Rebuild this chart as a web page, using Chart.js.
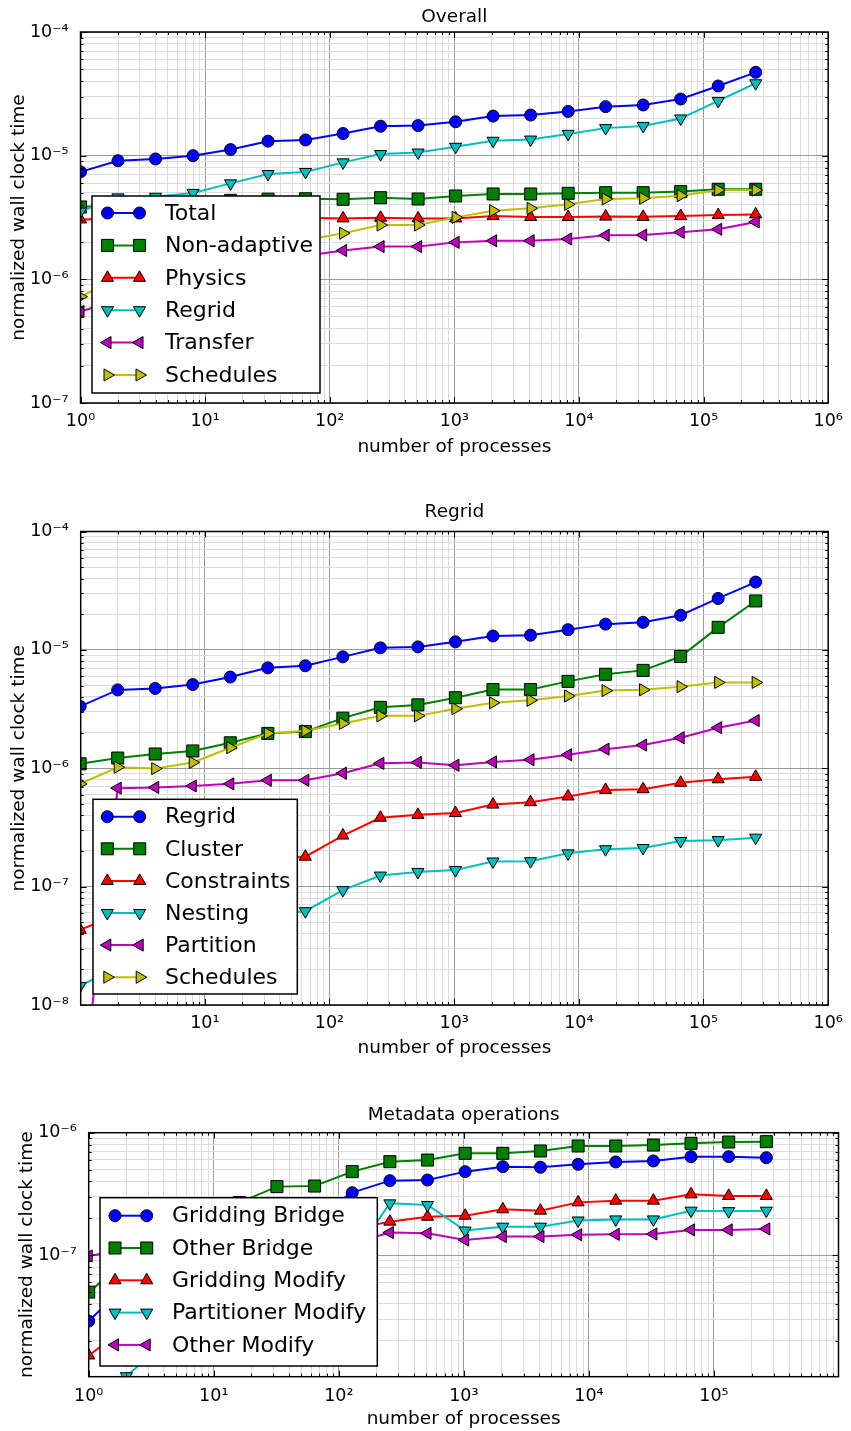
<!DOCTYPE html>
<html>
<head>
<meta charset="utf-8">
<script src="https://cdn.jsdelivr.net/npm/chart.js@4.4.1/dist/chart.umd.min.js"></script>
<style>
html, body { margin: 0; padding: 0; background: #ffffff; }
body { width: 851px; height: 1431px; position: relative; overflow: hidden; }
canvas { position: absolute; left: 0; }
</style>
</head>
<body>
<canvas id="c1" width="851" height="470" style="top:0px"></canvas>
<canvas id="c2" width="851" height="600" style="top:470px"></canvas>
<canvas id="c3" width="851" height="361" style="top:1070px"></canvas>
<script>
// ---------------- data ----------------
const PROCS = [1, 2, 4, 8, 16, 32, 64, 128, 256, 512, 1024, 2048, 4096, 8192, 16384, 32768, 65536, 131072, 262144];

// Overall
const overallNames = ['Total', 'Non-adaptive', 'Physics', 'Regrid', 'Transfer', 'Schedules'];
const overallTotal = [7.4e-6, 9.1e-6, 9.4e-6, 1.0e-5, 1.12e-5, 1.31e-5, 1.34e-5, 1.51e-5, 1.73e-5, 1.75e-5, 1.88e-5, 2.09e-5, 2.13e-5, 2.28e-5, 2.49e-5, 2.57e-5, 2.87e-5, 3.66e-5, 4.72e-5];
const overallNonAdaptive = [3.85e-6, 4.0e-6, 4.1e-6, 4.2e-6, 4.35e-6, 4.45e-6, 4.48e-6, 4.44e-6, 4.57e-6, 4.46e-6, 4.72e-6, 4.9e-6, 4.9e-6, 4.96e-6, 5.02e-6, 5.02e-6, 5.12e-6, 5.35e-6, 5.35e-6];
const overallPhysics = [3.05e-6, 3.1e-6, 3.1e-6, 3.12e-6, 3.1e-6, 3.15e-6, 3.15e-6, 3.11e-6, 3.15e-6, 3.11e-6, 3.11e-6, 3.25e-6, 3.19e-6, 3.19e-6, 3.22e-6, 3.2e-6, 3.25e-6, 3.31e-6, 3.35e-6];
const overallRegrid = [3.53e-6, 4.6e-6, 4.65e-6, 5.0e-6, 5.97e-6, 7.11e-6, 7.38e-6, 8.83e-6, 1.03e-5, 1.06e-5, 1.18e-5, 1.32e-5, 1.35e-5, 1.5e-5, 1.67e-5, 1.74e-5, 2.0e-5, 2.77e-5, 3.85e-5];
const overallTransfer = [5.5e-7, 6.8e-7, 8.5e-7, 1.05e-6, 1.25e-6, 1.45e-6, 1.55e-6, 1.71e-6, 1.84e-6, 1.84e-6, 1.99e-6, 2.05e-6, 2.05e-6, 2.12e-6, 2.27e-6, 2.28e-6, 2.4e-6, 2.54e-6, 2.91e-6];
const overallSchedules = [7.24e-7, 1.02e-6, 9.93e-7, 1.12e-6, 1.49e-6, 1.97e-6, 2.07e-6, 2.36e-6, 2.75e-6, 2.75e-6, 3.17e-6, 3.59e-6, 3.75e-6, 4.04e-6, 4.46e-6, 4.52e-6, 4.75e-6, 5.27e-6, 5.27e-6];

// Regrid
const regridNames = ['Regrid', 'Cluster', 'Constraints', 'Nesting', 'Partition', 'Schedules'];
const regridRegrid = [3.33e-6, 4.59e-6, 4.72e-6, 5.09e-6, 5.89e-6, 7.05e-6, 7.34e-6, 8.73e-6, 1.04e-5, 1.06e-5, 1.17e-5, 1.31e-5, 1.33e-5, 1.48e-5, 1.65e-5, 1.71e-5, 1.96e-5, 2.72e-5, 3.74e-5];
const regridCluster = [1.09e-6, 1.22e-6, 1.32e-6, 1.40e-6, 1.64e-6, 1.97e-6, 2.04e-6, 2.65e-6, 3.27e-6, 3.43e-6, 3.94e-6, 4.62e-6, 4.62e-6, 5.42e-6, 6.22e-6, 6.71e-6, 8.79e-6, 1.55e-5, 2.59e-5];
const regridConstraints = [4.32e-8, 5.8e-8, 8.0e-8, 1.05e-7, 1.35e-7, 1.7e-7, 1.79e-7, 2.70e-7, 3.82e-7, 4.04e-7, 4.18e-7, 4.93e-7, 5.17e-7, 5.78e-7, 6.56e-7, 6.65e-7, 7.54e-7, 8.07e-7, 8.47e-7];
const regridNesting = [1.45e-8, 2.1e-8, 2.9e-8, 3.8e-8, 4.8e-8, 5.8e-8, 6.2e-8, 9.35e-8, 1.24e-7, 1.33e-7, 1.38e-7, 1.63e-7, 1.64e-7, 1.91e-7, 2.07e-7, 2.12e-7, 2.43e-7, 2.47e-7, 2.59e-7];
const regridPartition = [1.3e-9, 6.79e-7, 6.89e-7, 7.08e-7, 7.38e-7, 7.91e-7, 7.91e-7, 9.08e-7, 1.10e-6, 1.12e-6, 1.06e-6, 1.13e-6, 1.18e-6, 1.30e-6, 1.45e-6, 1.57e-6, 1.81e-6, 2.20e-6, 2.53e-6];
const regridSchedules = [7.38e-7, 1.02e-6, 9.93e-7, 1.12e-6, 1.49e-6, 1.97e-6, 2.07e-6, 2.39e-6, 2.77e-6, 2.77e-6, 3.18e-6, 3.57e-6, 3.75e-6, 4.08e-6, 4.53e-6, 4.6e-6, 4.89e-6, 5.31e-6, 5.31e-6];

// Metadata operations
const metaNames = ['Gridding Bridge', 'Other Bridge', 'Gridding Modify', 'Partitioner Modify', 'Other Modify'];
const metaGriddingBridge = [2.9e-8, 5.7e-8, 8.2e-8, 1.12e-7, 1.5e-7, 1.9e-7, 2.05e-7, 3.24e-7, 4.06e-7, 4.11e-7, 4.81e-7, 5.28e-7, 5.22e-7, 5.52e-7, 5.77e-7, 5.88e-7, 6.37e-7, 6.37e-7, 6.25e-7];
const metaOtherBridge = [5.0e-8, 9.0e-8, 1.3e-7, 1.85e-7, 2.69e-7, 3.63e-7, 3.67e-7, 4.81e-7, 5.8e-7, 5.98e-7, 6.79e-7, 6.79e-7, 7.09e-7, 7.79e-7, 7.79e-7, 7.93e-7, 8.19e-7, 8.39e-7, 8.45e-7];
const metaGriddingModify = [1.52e-8, 2.57e-8, 3.8e-8, 5.5e-8, 8.0e-8, 1.05e-7, 1.35e-7, 1.63e-7, 1.88e-7, 2.06e-7, 2.1e-7, 2.37e-7, 2.31e-7, 2.7e-7, 2.79e-7, 2.79e-7, 3.14e-7, 3.05e-7, 3.05e-7];
const metaPartitionerModify = [6.0e-9, 1.03e-8, 1.9e-8, 3.0e-8, 4.5e-8, 6.0e-8, 7.8e-8, 9.6e-8, 2.65e-7, 2.57e-7, 1.59e-7, 1.71e-7, 1.71e-7, 1.92e-7, 1.96e-7, 1.96e-7, 2.31e-7, 2.29e-7, 2.31e-7];
const metaOtherModify = [9.86e-8, 1.12e-7, 1.15e-7, 1.18e-7, 1.2e-7, 1.22e-7, 1.24e-7, 1.25e-7, 1.53e-7, 1.51e-7, 1.33e-7, 1.42e-7, 1.42e-7, 1.47e-7, 1.48e-7, 1.49e-7, 1.61e-7, 1.61e-7, 1.64e-7];

// Axis labels
const X_TITLE = 'number of processes';
const Y_TITLE = 'normalized wall clock time';

// ---------------- styles ----------------
const STYLES = [
  { color: '#0000ff', shape: 'circle',   rot: 0,   r: 6 },
  { color: '#008000', shape: 'rect',     rot: 0,   r: 8.5 },
  { color: '#ff0000', shape: 'triangle', rot: 0,   r: 7 },
  { color: '#00bfbf', shape: 'triangle', rot: 180, r: 7 },
  { color: '#bf00bf', shape: 'triangle', rot: 270, r: 7 },
  { color: '#bfbf00', shape: 'triangle', rot: 90,  r: 7 }
];
const MAJOR_GRID = '#999999';
const MINOR_GRID = '#dcdcdc';
const FONT = '"DejaVu Sans", "Liberation Sans", sans-serif';
const LABEL_SIZE = 18.5;
const TICK_SIZE = 17.5;

Chart.defaults.font.family = FONT;
Chart.defaults.color = '#000';

const SUP = { '-': '\u207B', '0': '\u2070', '1': '\u00B9', '2': '\u00B2', '3': '\u00B3', '4': '\u2074', '5': '\u2075', '6': '\u2076', '7': '\u2077', '8': '\u2078', '9': '\u2079' };
function isDecade(v) { const l = Math.log10(v); return Math.abs(l - Math.round(l)) < 1e-6; }
function decadeLabel(v) {
  const e = Math.round(Math.log10(v));
  return '10' + String(e).split('').map(c => SUP[c]).join('');
}
function logTicks(min, max) {
  const out = [];
  for (let e = Math.floor(Math.log10(min)); e <= Math.ceil(Math.log10(max)); e++) {
    for (let m = 1; m <= 9; m++) {
      const v = m * Math.pow(10, e);
      if (v >= min * (1 - 1e-9) && v <= max * (1 + 1e-9)) out.push({ value: v });
    }
  }
  return out;
}

function drawMarker(ctx, shape, rot, r, x, y) {
  ctx.beginPath();
  if (shape === 'circle') {
    ctx.arc(x, y, r, 0, 2 * Math.PI);
  } else if (shape === 'rect') {
    const s = Math.SQRT1_2 * r;
    ctx.rect(x - s, y - s, 2 * s, 2 * s);
  } else {
    let a = rot * Math.PI / 180;
    ctx.moveTo(x + Math.sin(a) * r, y - Math.cos(a) * r);
    for (let k = 0; k < 2; k++) {
      a += 2 * Math.PI / 3;
      ctx.lineTo(x + Math.sin(a) * r, y - Math.cos(a) * r);
    }
    ctx.closePath();
  }
  ctx.fill();
  ctx.stroke();
}

// frame, inward ticks and matplotlib-like legend
const mplPlugin = {
  id: 'mpl',
  afterDatasetsDraw(chart, args, opts) {
    const { ctx, chartArea: a } = chart;
    const xs = chart.scales.x, ys = chart.scales.y;
    ctx.save();
    ctx.strokeStyle = '#000';
    ctx.lineWidth = 1;
    ctx.beginPath();
    xs.ticks.forEach(t => {
      const p = Math.round(xs.getPixelForValue(t.value)) + 0.5;
      const L = isDecade(t.value) ? 6 : 3;
      ctx.moveTo(p, a.bottom); ctx.lineTo(p, a.bottom - L);
      ctx.moveTo(p, a.top); ctx.lineTo(p, a.top + L);
    });
    ys.ticks.forEach(t => {
      const p = Math.round(ys.getPixelForValue(t.value)) + 0.5;
      const L = isDecade(t.value) ? 6 : 3;
      ctx.moveTo(a.left, p); ctx.lineTo(a.left + L, p);
      ctx.moveTo(a.right, p); ctx.lineTo(a.right - L, p);
    });
    ctx.stroke();
    ctx.lineWidth = 1.5;
    ctx.strokeRect(a.left, a.top, a.right - a.left, a.bottom - a.top);

    const lg = opts.legend;
    if (lg) {
      ctx.fillStyle = '#fff';
      ctx.fillRect(lg.x, lg.y, lg.w, lg.h);
      ctx.strokeStyle = '#000';
      ctx.lineWidth = 1.5;
      ctx.strokeRect(lg.x, lg.y, lg.w, lg.h);
      chart.data.datasets.forEach((ds, i) => {
        const y = lg.row0 + i * lg.step;
        ctx.strokeStyle = ds.borderColor;
        ctx.lineWidth = ds.borderWidth;
        ctx.beginPath();
        ctx.moveTo(lg.m1, y); ctx.lineTo(lg.m2, y);
        ctx.stroke();
        ctx.fillStyle = ds.pointBackgroundColor;
        ctx.strokeStyle = ds.pointBorderColor;
        ctx.lineWidth = ds.pointBorderWidth;
        drawMarker(ctx, ds.pointStyle, ds.pointRotation, ds.pointRadius, lg.m1, y);
        drawMarker(ctx, ds.pointStyle, ds.pointRotation, ds.pointRadius, lg.m2, y);
        ctx.fillStyle = '#000';
        ctx.font = lg.fontSize + 'px ' + FONT;
        ctx.textBaseline = 'middle';
        ctx.textAlign = 'left';
        ctx.fillText(ds.label, lg.textX, y + 1);
      });
    }
    ctx.restore();
  }
};

function makeDatasets(names, series) {
  return series.map((vals, i) => {
    const st = STYLES[i];
    return {
      label: names[i],
      data: PROCS.map((p, k) => ({ x: p, y: vals[k] })),
      borderColor: st.color,
      backgroundColor: st.color,
      pointBackgroundColor: st.color,
      pointBorderColor: '#000',
      pointBorderWidth: 1,
      pointStyle: st.shape,
      pointRotation: st.rot,
      pointRadius: st.r,
      pointHoverRadius: st.r,
      borderWidth: 2,
      tension: 0,
      fill: false,
      clip: 0,
      order: series.length - i
    };
  });
}

function makeChart(cfg) {
  const H = cfg.H;
  const lh = LABEL_SIZE * 1.2;
  return new Chart(document.getElementById(cfg.id), {
    type: 'line',
    data: { datasets: makeDatasets(cfg.names, cfg.series) },
    options: {
      responsive: false,
      animation: false,
      devicePixelRatio: 1,
      events: [],
      layout: { padding: { left: 0, right: 851 - cfg.area.right, top: 0, bottom: 0 } },
      plugins: {
        legend: { display: false },
        tooltip: { enabled: false },
        title: {
          display: true,
          text: cfg.title,
          fullSize: false,
          color: '#000',
          font: { size: LABEL_SIZE, weight: 'normal' },
          padding: { top: cfg.titleCenter - lh / 2, bottom: cfg.area.top - (cfg.titleCenter - lh / 2) - lh }
        },
        mpl: { legend: cfg.legend }
      },
      scales: {
        x: {
          type: 'logarithmic',
          min: cfg.xMin, max: cfg.xMax,
          afterBuildTicks: s => { s.ticks = logTicks(s.min, s.max); },
          afterFit: s => { s.height = H - cfg.area.bottom; },
          ticks: {
            autoSkip: false, maxRotation: 0, minRotation: 0,
            padding: cfg.xTickPad,
            color: '#000',
            font: { size: TICK_SIZE },
            callback: v => isDecade(v) ? decadeLabel(v) : ''
          },
          grid: {
            drawTicks: false,
            lineWidth: 1,
            color: c => (c.tick && isDecade(c.tick.value)) ? MAJOR_GRID : MINOR_GRID
          },
          border: { display: false },
          title: {
            display: true, text: X_TITLE, color: '#000',
            font: { size: LABEL_SIZE },
            padding: { top: 0, bottom: H - cfg.xTitleCenter - lh / 2 }
          }
        },
        y: {
          type: 'logarithmic',
          min: cfg.yMin, max: cfg.yMax,
          afterBuildTicks: s => { s.ticks = logTicks(s.min, s.max); },
          afterFit: s => { s.width = cfg.area.left; },
          ticks: {
            autoSkip: false,
            padding: 12,
            color: '#000',
            font: { size: TICK_SIZE },
            callback: v => isDecade(v) ? decadeLabel(v) : ''
          },
          grid: {
            drawTicks: false,
            lineWidth: 1,
            color: c => (c.tick && isDecade(c.tick.value)) ? MAJOR_GRID : MINOR_GRID
          },
          border: { display: false },
          title: {
            display: true, text: Y_TITLE, color: '#000',
            font: { size: LABEL_SIZE },
            padding: { top: cfg.yTitleCenter - lh / 2, bottom: 0 }
          }
        }
      }
    },
    plugins: [mplPlugin]
  });
}

makeChart({
  id: 'c1', H: 470, title: 'Overall',
  names: overallNames,
  series: [overallTotal, overallNonAdaptive, overallPhysics, overallRegrid, overallTransfer, overallSchedules],
  area: { left: 80.5, right: 834.5, top: 32, bottom: 403 },
  xMin: 1, xMax: 1e6, yMin: 1e-7, yMax: 1e-4,
  titleCenter: 17, xTickPad: 8.2, xTitleCenter: 447, yTitleCenter: 19,
  legend: { x: 92, y: 196, w: 228, h: 197, row0: 213, step: 32.4, m1: 107.5, m2: 139.5, textX: 165, fontSize: 22 }
});

makeChart({
  id: 'c2', H: 600, title: 'Regrid',
  names: regridNames,
  series: [regridRegrid, regridCluster, regridConstraints, regridNesting, regridPartition, regridSchedules],
  area: { left: 80.7, right: 834.7, top: 61.5, bottom: 535 },
  xMin: 1.01, xMax: 1e6, yMin: 1e-8, yMax: 1e-4,
  titleCenter: 42, xTickPad: 8.2, xTitleCenter: 578, yTitleCenter: 19,
  legend: { x: 93, y: 329.3, w: 204.3, h: 194.7, row0: 346.7, step: 32.1, m1: 107.3, m2: 139.7, textX: 165, fontSize: 22 }
});

makeChart({
  id: 'c3', H: 361, title: 'Metadata operations',
  names: metaNames,
  series: [metaGriddingBridge, metaOtherBridge, metaGriddingModify, metaPartitionerModify, metaOtherModify],
  area: { left: 88.7, right: 838.5, top: 62.7, bottom: 306.7 },
  xMin: 1, xMax: 9.9e5, yMin: 1.02e-8, yMax: 1e-6,
  titleCenter: 45, xTickPad: 9.2, xTitleCenter: 349, yTitleCenter: 27,
  legend: { x: 100, y: 127.7, w: 277.3, h: 168.3, row0: 145.7, step: 32.3, m1: 115, m2: 146.7, textX: 172, fontSize: 22 }
});
</script>
</body>
</html>
